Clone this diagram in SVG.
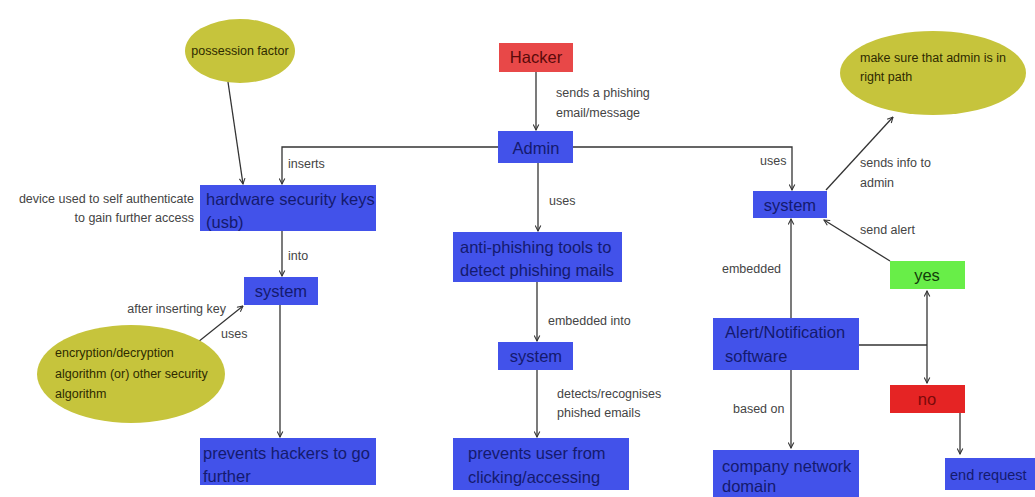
<svg xmlns="http://www.w3.org/2000/svg" width="1035" height="497" viewBox="0 0 1035 497">
<style>
text{font-family:"Liberation Sans",Arial,sans-serif}
.box{fill:#4252ea}
.bt{font-size:16.5px;fill:#141a6e}
.lbl{font-size:12.5px;fill:#444}
.ell{fill:#c6c43c}
.et{font-size:12.5px;fill:#2e2a00}
.c{text-anchor:middle}
.ln{fill:none;stroke:#333;stroke-width:1.3}
</style>
<defs>
<marker id="ah" viewBox="0 0 10 10" refX="9" refY="5" markerWidth="7" markerHeight="7" orient="auto-start-reverse" markerUnits="userSpaceOnUse">
<path d="M1,1 L9,5 L1,9" fill="none" stroke="#333" stroke-width="1.5"/>
</marker>
</defs>
<rect width="1035" height="497" fill="#fff"/>
<g id="connectors">
<line class="ln" x1="536" y1="72" x2="536" y2="130" marker-end="url(#ah)"/>
<polyline class="ln" points="498,147 282,147 282,184" marker-end="url(#ah)"/>
<polyline class="ln" points="573,147 792,147 792,190" marker-end="url(#ah)"/>
<line class="ln" x1="538" y1="163" x2="538" y2="231" marker-end="url(#ah)"/>
<line class="ln" x1="228" y1="82" x2="243" y2="184" marker-end="url(#ah)"/>
<line class="ln" x1="282" y1="231" x2="282" y2="276" marker-end="url(#ah)"/>
<line class="ln" x1="198" y1="342" x2="243" y2="306" marker-end="url(#ah)"/>
<line class="ln" x1="280" y1="305" x2="280" y2="437" marker-end="url(#ah)"/>
<line class="ln" x1="537" y1="282" x2="537" y2="341" marker-end="url(#ah)"/>
<line class="ln" x1="537" y1="370" x2="537" y2="437" marker-end="url(#ah)"/>
<line class="ln" x1="826" y1="190" x2="893" y2="117" marker-end="url(#ah)"/>
<line class="ln" x1="890" y1="261" x2="824" y2="220" marker-end="url(#ah)"/>
<line class="ln" x1="791" y1="318" x2="791" y2="219" marker-end="url(#ah)"/>
<line class="ln" x1="859" y1="345" x2="927" y2="345"/>
<line class="ln" x1="927" y1="291" x2="927" y2="383" marker-start="url(#ah)" marker-end="url(#ah)"/>
<line class="ln" x1="960" y1="413" x2="960" y2="454" marker-end="url(#ah)"/>
<line class="ln" x1="791" y1="370" x2="791" y2="448" marker-end="url(#ah)"/>
<text class="lbl" x="556" y="97">sends a phishing</text>
<text class="lbl" x="556" y="117">email/message</text>
<text class="lbl" x="288" y="168">inserts</text>
<text class="lbl" x="549" y="205">uses</text>
<text class="lbl" x="288" y="260">into</text>
<text class="lbl" x="226" y="313" text-anchor="end">after inserting key</text>
<text class="lbl" x="221" y="338">uses</text>
<text class="lbl" x="548" y="325">embedded into</text>
<text class="lbl" x="557" y="398">detects/recognises</text>
<text class="lbl" x="557" y="417">phished emails</text>
<text class="lbl" x="760" y="165">uses</text>
<text class="lbl" x="860" y="167">sends info to</text>
<text class="lbl" x="860" y="187">admin</text>
<text class="lbl" x="860" y="234">send alert</text>
<text class="lbl" x="722" y="273">embedded</text>
<text class="lbl" x="733" y="413">based on</text>
</g>
<g id="hacker"><rect x="499" y="43" width="74" height="29" fill="#e84848"/><text class="bt c" x="536" y="63" style="fill:#5a0a0a">Hacker</text></g>
<g id="admin"><rect class="box" x="498" y="131" width="75" height="32"/><text class="bt c" x="536" y="154">Admin</text></g>
<g id="possession"><ellipse class="ell" cx="240" cy="51" rx="55" ry="32"/><text class="et c" x="240" y="55">possession factor</text></g>
<g id="note-device"><text class="lbl" x="194" y="203" text-anchor="end">device used to self authenticate</text><text class="lbl" x="194" y="222" text-anchor="end">to gain further access</text></g>
<g id="hardware"><rect class="box" x="200" y="185" width="176" height="46"/><text class="bt" x="206" y="205">hardware security keys</text><text class="bt" x="206" y="228">(usb)</text></g>
<g id="system-left"><rect class="box" x="244" y="277" width="74" height="28"/><text class="bt c" x="281" y="297">system</text></g>
<g id="encryption"><ellipse class="ell" cx="131" cy="374" rx="94" ry="49"/><text class="et" x="55" y="357">encryption/decryption</text><text class="et" x="55" y="378">algorithm (or) other security</text><text class="et" x="55" y="398">algorithm</text></g>
<g id="prevents-hackers"><rect class="box" x="200" y="438" width="176" height="47"/><text class="bt" x="203" y="459">prevents hackers to go</text><text class="bt" x="203" y="482">further</text></g>
<g id="anti-phishing"><rect class="box" x="453" y="232" width="169" height="50"/><text class="bt" x="460" y="253">anti-phishing tools to</text><text class="bt" x="460" y="276">detect phishing mails</text></g>
<g id="system-mid"><rect class="box" x="498" y="342" width="75" height="28"/><text class="bt c" x="536" y="362">system</text></g>
<g id="prevents-user"><rect class="box" x="453" y="438" width="176" height="52"/><text class="bt" x="468" y="459">prevents user from</text><text class="bt" x="468" y="483">clicking/accessing</text></g>
<g id="admin-path"><ellipse class="ell" cx="933" cy="73" rx="93" ry="42"/><text class="et" x="860" y="62">make sure that admin is in</text><text class="et" x="860" y="81">right path</text></g>
<g id="system-right"><rect class="box" x="753" y="191" width="74" height="27"/><text class="bt c" x="790" y="211">system</text></g>
<g id="yes"><rect x="890" y="261" width="75" height="28" fill="#68ee48"/><text class="bt c" x="927" y="281" style="fill:#133d0a">yes</text></g>
<g id="alert"><rect class="box" x="713" y="318" width="146" height="52"/><text class="bt" x="725" y="338">Alert/Notification</text><text class="bt" x="725" y="362">software</text></g>
<g id="no"><rect x="890" y="385" width="75" height="28" fill="#e52424"/><text class="bt c" x="927" y="405" style="fill:#7a0a0a">no</text></g>
<g id="company"><rect class="box" x="713" y="450" width="146" height="47"/><text class="bt" x="722" y="472">company network</text><text class="bt" x="722" y="492">domain</text></g>
<g id="end-request"><rect class="box" x="945" y="458" width="90" height="32"/><text class="bt" x="950" y="480" style="font-size:14.5px">end request</text></g>
</svg>
